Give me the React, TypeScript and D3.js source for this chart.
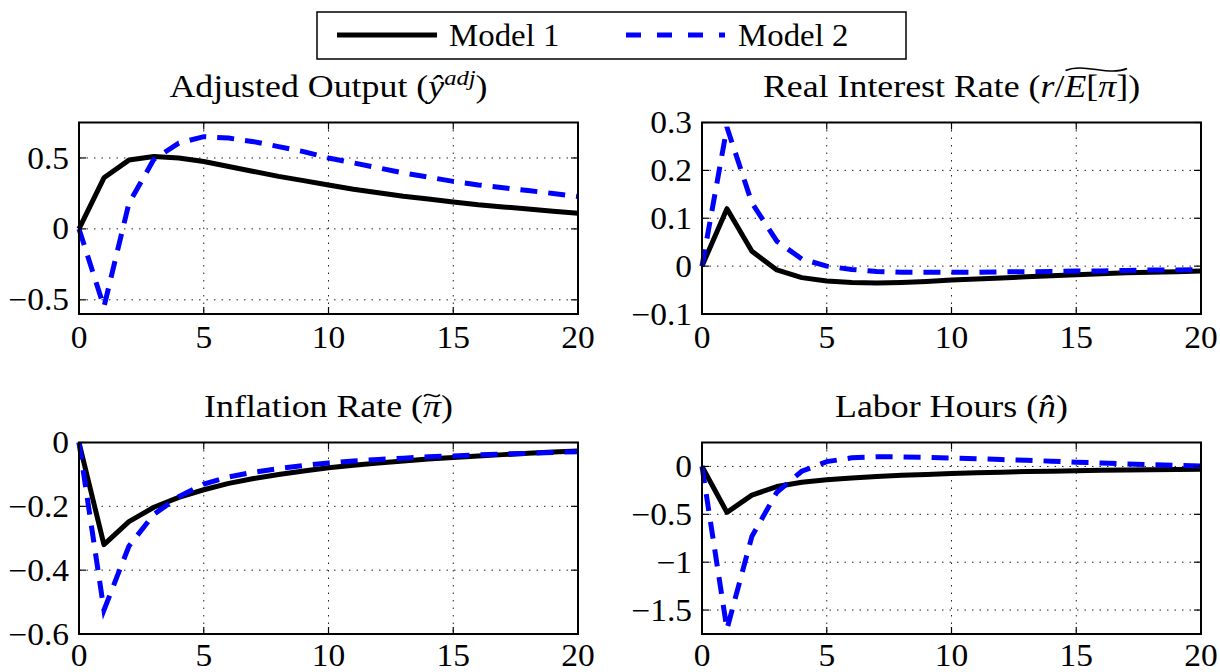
import React, { useRef, useEffect } from 'react';
import * as d3 from 'd3';

// quarters after the shock
const horizon = [0, 1, 2, 3, 4, 5, 6, 7, 8, 9, 10, 11, 12, 13, 14, 15, 16, 17, 18, 19, 20];
const xTicks = [0, 5, 10, 15, 20];

const outputModel1 = [0, 0.36, 0.485, 0.51, 0.5, 0.475, 0.44, 0.405, 0.37, 0.34, 0.31, 0.28, 0.255, 0.23, 0.21, 0.19, 0.17, 0.155, 0.14, 0.125, 0.11];
const outputModel2 = [0, -0.55, 0.18, 0.49, 0.605, 0.65, 0.64, 0.615, 0.58, 0.545, 0.5, 0.465, 0.43, 0.395, 0.365, 0.335, 0.31, 0.29, 0.27, 0.25, 0.228];

const rateModel1 = [0, 0.12, 0.031, -0.008, -0.024, -0.031, -0.034, -0.035, -0.034, -0.032, -0.029, -0.027, -0.025, -0.022, -0.02, -0.018, -0.016, -0.014, -0.013, -0.012, -0.01];
const rateModel2 = [0, 0.29, 0.132, 0.052, 0.015, 0.0, -0.007, -0.011, -0.013, -0.013, -0.013, -0.013, -0.012, -0.012, -0.011, -0.01, -0.01, -0.009, -0.008, -0.008, -0.007];

const inflModel1 = [0, -0.32, -0.248, -0.203, -0.172, -0.148, -0.128, -0.113, -0.1, -0.089, -0.079, -0.071, -0.064, -0.058, -0.052, -0.047, -0.042, -0.038, -0.034, -0.03, -0.027];
const inflModel2 = [0, -0.525, -0.325, -0.225, -0.17, -0.13, -0.108, -0.093, -0.082, -0.072, -0.064, -0.058, -0.053, -0.049, -0.045, -0.042, -0.039, -0.036, -0.034, -0.031, -0.029];

const hoursModel1 = [0, -0.48, -0.3, -0.21, -0.165, -0.14, -0.12, -0.105, -0.093, -0.083, -0.074, -0.067, -0.06, -0.054, -0.049, -0.044, -0.04, -0.037, -0.034, -0.032, -0.03];
const hoursModel2 = [0, -1.7, -0.73, -0.27, -0.05, 0.05, 0.09, 0.1, 0.1, 0.095, 0.088, 0.08, 0.072, 0.065, 0.055, 0.045, 0.035, 0.027, 0.018, 0.01, 0.005];

const outputTicks = [-0.5, 0, 0.5];
const rateTicks = [-0.1, 0, 0.1, 0.2, 0.3];
const inflTicks = [-0.6, -0.4, -0.2, 0];
const hoursTicks = [-1.5, -1, -0.5, 0];

const legendLabels = ['Model 1', 'Model 2'];

const FONT = '"Liberation Serif", serif';
const BLUE = '#0000ff';

const cols = [[79, 578], [702, 1201]];
const rows = [[122.5, 314], [442.5, 634]];

type Seg = { t: string; it?: boolean; sup?: boolean; acc?: 'wide' | 'tilde' };

const panels: { title: Seg[]; m1: number[]; m2: number[]; domain: [number, number]; ticks: number[] }[] = [
  {
    title: [{ t: 'Adjusted Output (' }, { t: 'ŷ', it: true }, { t: 'adj', it: true, sup: true }, { t: ')' }],
    m1: outputModel1, m2: outputModel2, domain: [-0.6, 0.75], ticks: outputTicks,
  },
  {
    title: [{ t: 'Real Interest Rate (' }, { t: 'r', it: true }, { t: '/' }, { t: 'E', it: true, acc: 'wide' }, { t: '[', acc: 'wide' }, { t: 'π', it: true, acc: 'wide' }, { t: ']', acc: 'wide' }, { t: ')' }],
    m1: rateModel1, m2: rateModel2, domain: [-0.1, 0.3], ticks: rateTicks,
  },
  {
    title: [{ t: 'Inflation Rate (' }, { t: 'π', it: true, acc: 'tilde' }, { t: ')' }],
    m1: inflModel1, m2: inflModel2, domain: [-0.6, 0], ticks: inflTicks,
  },
  {
    title: [{ t: 'Labor Hours (' }, { t: 'n\u0302', it: true }, { t: ')' }],
    m1: hoursModel1, m2: hoursModel2, domain: [-1.75, 0.25], ticks: hoursTicks,
  },
];

const fmt = (v: number) => (v < 0 ? '\u2212' : '') + String(Math.abs(v));

export default function App() {
  const svgRef = useRef<SVGSVGElement>(null);

  useEffect(() => {
    const svg = d3.select(svgRef.current);
    svg.selectAll('*').remove();

    // legend
    const lg = svg.append('g');
    lg.append('rect')
      .attr('x', 317).attr('y', 12).attr('width', 589).attr('height', 47)
      .attr('fill', '#fff').attr('stroke', '#000').attr('stroke-width', 1.5);
    lg.append('line')
      .attr('x1', 337).attr('x2', 437).attr('y1', 35).attr('y2', 35)
      .attr('stroke', '#000').attr('stroke-width', 5);
    lg.append('line')
      .attr('x1', 626).attr('x2', 725).attr('y1', 35).attr('y2', 35)
      .attr('stroke', BLUE).attr('stroke-width', 5).attr('stroke-dasharray', '15,16');
    lg.selectAll('text.lab')
      .data(legendLabels)
      .join('text')
      .attr('class', 'lab')
      .attr('transform', (d, i) => `translate(${i === 0 ? 449 : 738},46) scale(1.06,1)`)
      .attr('font-family', FONT).attr('font-size', 31)
      .text(d => d);

    panels.forEach((p, i) => {
      const [xl, xr] = cols[i % 2];
      const [yt, yb] = rows[Math.floor(i / 2)];
      const x = d3.scaleLinear().domain([0, 20]).range([xl, xr]);
      const y = d3.scaleLinear().domain(p.domain).range([yb, yt]);
      const g = svg.append('g');

      // dotted grid
      g.selectAll('line.gx').data(xTicks).join('line').attr('class', 'gx')
        .attr('x1', d => x(d)).attr('x2', d => x(d)).attr('y1', yt).attr('y2', yb)
        .attr('stroke', '#222').attr('stroke-width', 1).attr('stroke-dasharray', '1.5,6');
      g.selectAll('line.gy').data(p.ticks).join('line').attr('class', 'gy')
        .attr('x1', xl).attr('x2', xr).attr('y1', d => y(d)).attr('y2', d => y(d))
        .attr('stroke', '#222').attr('stroke-width', 1).attr('stroke-dasharray', '1.5,6');

      // series
      const line = d3.line<number>().x((d, k) => x(horizon[k])).y(d => y(d));
      g.append('path').attr('d', line(p.m1)).attr('fill', 'none')
        .attr('stroke', '#000').attr('stroke-width', 5).attr('stroke-linejoin', 'round');
      g.append('path').attr('d', line(p.m2)).attr('fill', 'none')
        .attr('stroke', BLUE).attr('stroke-width', 5).attr('stroke-dasharray', '17,11');

      // inner ticks
      const tl = 7;
      g.selectAll('line.tx').data(xTicks).join('line').attr('class', 'tx')
        .attr('x1', d => x(d)).attr('x2', d => x(d)).attr('y1', yb).attr('y2', yb - tl)
        .attr('stroke', '#000').attr('stroke-width', 1.2);
      g.selectAll('line.tx2').data(xTicks).join('line').attr('class', 'tx2')
        .attr('x1', d => x(d)).attr('x2', d => x(d)).attr('y1', yt).attr('y2', yt + tl)
        .attr('stroke', '#000').attr('stroke-width', 1.2);
      g.selectAll('line.ty').data(p.ticks).join('line').attr('class', 'ty')
        .attr('x1', xl).attr('x2', xl + tl).attr('y1', d => y(d)).attr('y2', d => y(d))
        .attr('stroke', '#000').attr('stroke-width', 1.2);
      g.selectAll('line.ty2').data(p.ticks).join('line').attr('class', 'ty2')
        .attr('x1', xr).attr('x2', xr - tl).attr('y1', d => y(d)).attr('y2', d => y(d))
        .attr('stroke', '#000').attr('stroke-width', 1.2);

      // box
      g.append('rect').attr('x', xl).attr('y', yt).attr('width', xr - xl).attr('height', yb - yt)
        .attr('fill', 'none').attr('stroke', '#000').attr('stroke-width', 2);

      // tick labels
      const xoff = i < 2 ? 34 : 32;
      g.selectAll('text.xl').data(xTicks).join('text').attr('class', 'xl')
        .attr('transform', d => `translate(${x(d)},${yb + xoff}) scale(1.08,1)`)
        .attr('text-anchor', 'middle').attr('font-family', FONT).attr('font-size', 31)
        .text(d => fmt(d));
      g.selectAll('text.yl').data(p.ticks).join('text').attr('class', 'yl')
        .attr('transform', d => `translate(${xl - 10},${y(d)}) scale(1.08,1)`)
        .attr('dy', '0.34em')
        .attr('text-anchor', 'end').attr('font-family', FONT).attr('font-size', 31)
        .text(d => fmt(d));

      // title
      const tg = g.append('g').attr('transform', `translate(${(xl + xr) / 2},${yt - 26}) scale(1.12,1)`);
      const txt = tg.append('text').attr('text-anchor', 'middle')
        .attr('font-family', FONT).attr('font-size', 32);
      let shifted = false;
      p.title.forEach(s => {
        const ts = txt.append('tspan').text(s.t);
        if (s.it) ts.attr('font-style', 'italic');
        if (s.sup) {
          ts.attr('dy', -12).attr('font-size', 22);
          shifted = true;
        } else if (shifted) {
          ts.attr('dy', 12);
          shifted = false;
        }
        if (s.acc) ts.attr('class', s.acc);
      });
      const drawTilde = (cls: string, ty: number, amp: number, sw: number) => {
        const nodes = txt.selectAll<SVGTSpanElement, unknown>(`tspan.${cls}`).nodes();
        if (!nodes.length) return;
        const first = nodes[0];
        const last = nodes[nodes.length - 1];
        const x0 = first.getStartPositionOfChar(0).x;
        const x1 = last.getEndPositionOfChar(last.getNumberOfChars() - 1).x;
        const w = x1 - x0;
        tg.append('path')
          .attr('d', `M${x0 + 1},${ty + 1} C${x0 + w * 0.3},${ty - amp} ${x0 + w * 0.7},${ty + amp} ${x1 - 1},${ty - 1}`)
          .attr('fill', 'none').attr('stroke', '#000').attr('stroke-width', sw);
      };
      drawTilde('wide', -27, 7, 1.6);
      drawTilde('tilde', -21, 5, 1.6);
    });
  }, []);

  return (
    <svg
      ref={svgRef}
      width={1220}
      height={672}
      style={{ position: 'absolute', left: 0, top: 0, background: '#fff' }}
    />
  );
}
